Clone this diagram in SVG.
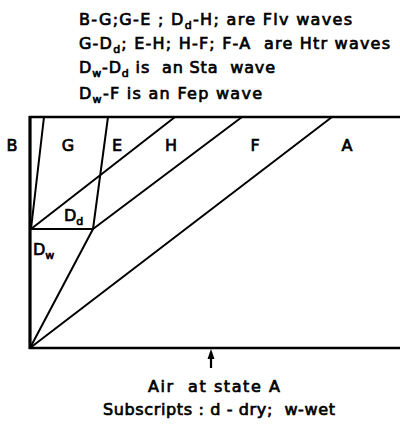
<svg xmlns="http://www.w3.org/2000/svg" width="400" height="425" viewBox="0 0 400 425">
<style>
  .t { font-family: "DejaVu Sans", "Liberation Sans", sans-serif; font-size: 16px; fill: #000; stroke: #000; stroke-width: 0.7; white-space: pre; }
  .lbl { font-family: "DejaVu Sans", "Liberation Sans", sans-serif; font-size: 16px; fill: #000; stroke: #000; stroke-width: 0.7; text-anchor: middle; }
  .sub { font-size: 11px; }
  .ln { stroke: #000; stroke-width: 2; fill: none; stroke-linecap: round; }
  .frame { stroke: #000; stroke-width: 2.6; fill: none; }
</style>
<rect width="400" height="425" fill="#fff"/>

<g id="legend">
  <text class="t" x="79" y="25" textLength="273" lengthAdjust="spacing">B-G;G-E ; D<tspan class="sub" dy="4">d</tspan><tspan dy="-4">-H; are Flv waves</tspan></text>
  <text class="t" x="79" y="49" textLength="311" lengthAdjust="spacing">G-D<tspan class="sub" dy="4">d</tspan><tspan dy="-4">; E-H; H-F; F-A  are Htr waves</tspan></text>
  <text class="t" x="79" y="73" textLength="196" lengthAdjust="spacing">D<tspan class="sub" dy="4">w</tspan><tspan dy="-4">-D</tspan><tspan class="sub" dy="4">d</tspan><tspan dy="-4"> is  an Sta  wave</tspan></text>
  <text class="t" x="79" y="99" textLength="183" lengthAdjust="spacing">D<tspan class="sub" dy="4">w</tspan><tspan dy="-4">-F is an Fep wave</tspan></text>
</g>

<g id="frame">
  <path class="frame" d="M29,117 H400 M29,348 H400"/>
  <path d="M30,116 V349" stroke="#000" stroke-width="3.2"/>
</g>

<g id="connectors">
  <path class="ln" d="M44,117 L31,229"/>
  <path class="ln" d="M108,117 L93,229"/>
  <path class="ln" d="M31,229 L175,117"/>
  <path class="ln" d="M31,229 H93"/>
  <path class="ln" d="M30,348 L93,229"/>
  <path class="ln" d="M93,229 L242,117"/>
  <path class="ln" d="M30,348 L332,117"/>
</g>

<g id="region-B"><text class="lbl" x="12" y="151">B</text></g>
<g id="region-G"><text class="lbl" x="68" y="151">G</text></g>
<g id="region-E"><text class="lbl" x="117" y="151">E</text></g>
<g id="region-H"><text class="lbl" x="171" y="151">H</text></g>
<g id="region-F"><text class="lbl" x="255" y="151">F</text></g>
<g id="region-A"><text class="lbl" x="347" y="151">A</text></g>
<g id="region-Dd"><text class="t" x="64" y="221">D<tspan class="sub" dy="4">d</tspan></text></g>
<g id="region-Dw"><text class="t" x="33" y="255">D<tspan class="sub" dy="4">w</tspan></text></g>

<g id="inlet">
  <path d="M211,352 V368" stroke="#000" stroke-width="2.2"/>
  <path d="M211,349 L214.5,359 L207.5,359 Z" fill="#000"/>
</g>

<g id="captions">
  <text class="t" x="148" y="392" textLength="132" lengthAdjust="spacing">Air  at state A</text>
  <text class="t" x="103" y="415" textLength="232" lengthAdjust="spacing">Subscripts : d - dry;  w-wet</text>
</g>
</svg>
